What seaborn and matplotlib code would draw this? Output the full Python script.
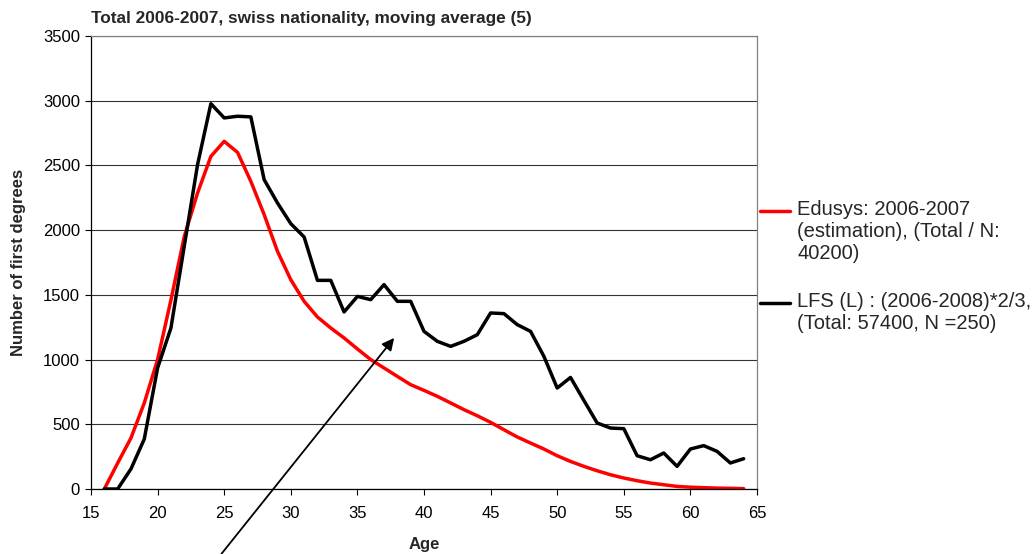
"""
Recreation of the first-degree age distribution chart (Edusys vs LFS)
"""
import matplotlib
matplotlib.use('Agg')
import matplotlib.pyplot as plt
from matplotlib.legend_handler import HandlerLine2D
import seaborn as sns
import numpy as np

ages = list(range(16, 65))

edusys = [0, 200, 394, 665, 1000, 1460, 1950, 2287, 2570, 2686,
          2601, 2377, 2120, 1836, 1617, 1450, 1329, 1244, 1167, 1082,
          1000, 935, 870, 806, 762, 716, 665, 613, 566, 515,
          458, 402, 355, 309, 257, 213, 175, 141, 110, 85,
          64, 46, 33, 20, 14, 10, 7, 5, 3]

lfs = [0, 0, 155, 386, 935, 1244, 1875, 2506, 2977, 2867,
       2880, 2875, 2390, 2210, 2050, 1947, 1612, 1612, 1368, 1488,
       1463, 1579, 1450, 1450, 1218, 1141, 1102, 1141, 1192, 1360,
       1355, 1270, 1218, 1025, 780, 862, 685, 510, 471, 466,
       257, 226, 278, 175, 309, 335, 291, 201, 234]

labels = ['Edusys: 2006-2007\n(estimation), (Total / N:\n40200)',
          'LFS (L) : (2006-2008)*2/3,\n(Total: 57400, N =250)']

x_ticks = list(range(15, 70, 5))
y_ticks = list(range(0, 4000, 500))

LEGEND_FS = 14.5


class FirstLineHandler(HandlerLine2D):
    """Put the legend line next to the first text line (Excel style)"""

    def __init__(self, n_lines, **kw):
        super().__init__(**kw)
        self.n_lines = n_lines

    def create_artists(self, legend, orig_handle, xdescent, ydescent,
                       width, height, fontsize, trans):
        artists = super().create_artists(legend, orig_handle, xdescent, ydescent,
                                          width, height, fontsize, trans)
        shift = (self.n_lines - 1) / 2 * fontsize * 1.035
        for a in artists:
            a.set_ydata(np.asarray(a.get_ydata()) + shift)
        return artists


sns.set_style('white')
plt.rcParams['font.family'] = ['Liberation Sans', 'DejaVu Sans']

fig = plt.figure(figsize=(10.34, 5.54), dpi=100)
ax = fig.add_axes([91 / 1034, 65 / 554, 666 / 1034, 453 / 554])

sns.lineplot(x=ages, y=edusys, color='#ff0000', linewidth=2.5, label=labels[0], ax=ax)
sns.lineplot(x=ages, y=lfs, color='black', linewidth=2.5, label=labels[1], ax=ax)

ax.set_xlim(15, 65)
ax.set_ylim(0, 3500)
ax.set_xticks(x_ticks)
ax.set_yticks(y_ticks)
ax.tick_params(axis='both', labelsize=12, direction='out', length=4, width=0.8,
               colors='black', bottom=True, left=True)
ax.tick_params(axis='x', pad=8)
ax.tick_params(axis='y', pad=4)

# Excel-like horizontal gridlines
ax.yaxis.grid(True, color='#333333', linewidth=0.8)
ax.xaxis.grid(False)

for side in ['left', 'bottom']:
    ax.spines[side].set_color('black')
    ax.spines[side].set_linewidth(0.9)
for side in ['top', 'right']:
    ax.spines[side].set_visible(True)
    ax.spines[side].set_color('#808080')
    ax.spines[side].set_linewidth(0.9)

ax.set_xlabel('Age', fontsize=12, fontweight='bold', labelpad=12)
ax.set_ylabel('Number of first degrees', fontsize=12, fontweight='bold', labelpad=12)
ax.set_title('Total 2006-2007, swiss nationality, moving average (5)',
             loc='left', fontsize=12.4, fontweight='bold', pad=9)

handles, _ = ax.get_legend_handles_labels()
ax.legend(handles, labels, loc='upper left',
          bbox_to_anchor=(760 / 1034, 1 - 200 / 554),
          bbox_transform=fig.transFigure, frameon=False, fontsize=LEGEND_FS,
          handlelength=1.5, handletextpad=0.35, labelspacing=1.45,
          borderpad=0, borderaxespad=0,
          handler_map={handles[0]: FirstLineHandler(3),
                       handles[1]: FirstLineHandler(2)})

# arrow pointing at the gap between the two curves
ax.annotate('', xy=(37.76, 1167), xytext=(24.8, -500),
            arrowprops=dict(arrowstyle='-|>', color='black', lw=1.3,
                            mutation_scale=18, shrinkA=0, shrinkB=0),
            annotation_clip=False, clip_on=False)

fig.savefig('out.png', dpi=100)
plt.close(fig)
